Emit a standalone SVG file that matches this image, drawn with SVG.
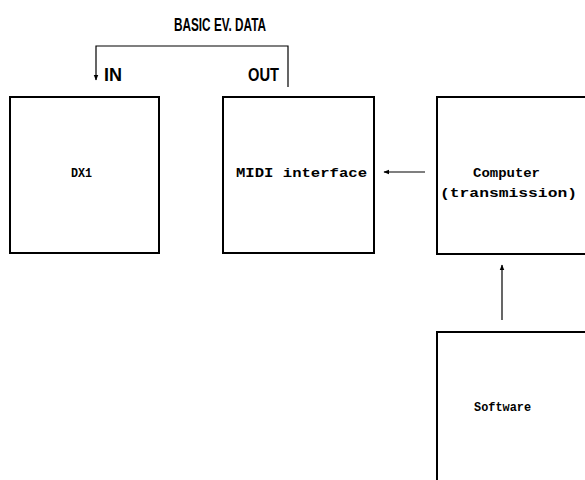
<svg xmlns="http://www.w3.org/2000/svg" width="585" height="480" viewBox="0 0 585 480">
<defs>
<marker id="ah" viewBox="0 0 10 10" refX="9" refY="5" markerWidth="6" markerHeight="6" orient="auto-start-reverse" markerUnits="userSpaceOnUse">
<path d="M0,1 L10,5 L0,9 z" fill="#000"/>
</marker>
<style>
.box{fill:#fff;stroke:#000;stroke-width:2}
.lbl{font-family:"Liberation Mono",monospace;font-weight:bold;font-size:12px;fill:#000}
.hdr{font-family:"Liberation Sans Narrow","Liberation Sans",sans-serif;font-weight:bold;font-size:19px;fill:#000}
.con{fill:none;stroke:#000;stroke-width:1.2}
</style>
</defs>
<rect width="585" height="480" fill="#fff"/>
<text class="hdr" x="174" y="31" textLength="92" lengthAdjust="spacingAndGlyphs">BASIC EV. DATA</text>
<text class="hdr" x="104" y="81" textLength="18" lengthAdjust="spacingAndGlyphs">IN</text>
<text class="hdr" x="248" y="81" textLength="31" lengthAdjust="spacingAndGlyphs">OUT</text>
<g id="dx1">
<rect class="box" x="10" y="97" width="149" height="156"/>
<text class="lbl" x="71" y="177" textLength="21" lengthAdjust="spacingAndGlyphs">DX1</text>
</g>
<g id="midi">
<rect class="box" x="223" y="97" width="151" height="156"/>
<text class="lbl" x="236" y="177" textLength="131" lengthAdjust="spacingAndGlyphs">MIDI interface</text>
</g>
<g id="computer">
<rect class="box" x="437" y="97" width="160" height="157"/>
<text class="lbl" x="473" y="177" textLength="67" lengthAdjust="spacingAndGlyphs">Computer</text>
<text class="lbl" x="440" y="197" textLength="137" lengthAdjust="spacingAndGlyphs">(transmission)</text>
</g>
<g id="software">
<rect class="box" x="437" y="332" width="160" height="160"/>
<text class="lbl" x="474" y="411" textLength="57" lengthAdjust="spacingAndGlyphs">Software</text>
</g>
<g id="connectors">
<path class="con" d="M288,87 L288,46 L96,46 L96,80" marker-end="url(#ah)"/>
<path class="con" d="M425,172 L384,172" marker-end="url(#ah)"/>
<path class="con" d="M502,320 L502,265" marker-end="url(#ah)"/>
</g>
</svg>
